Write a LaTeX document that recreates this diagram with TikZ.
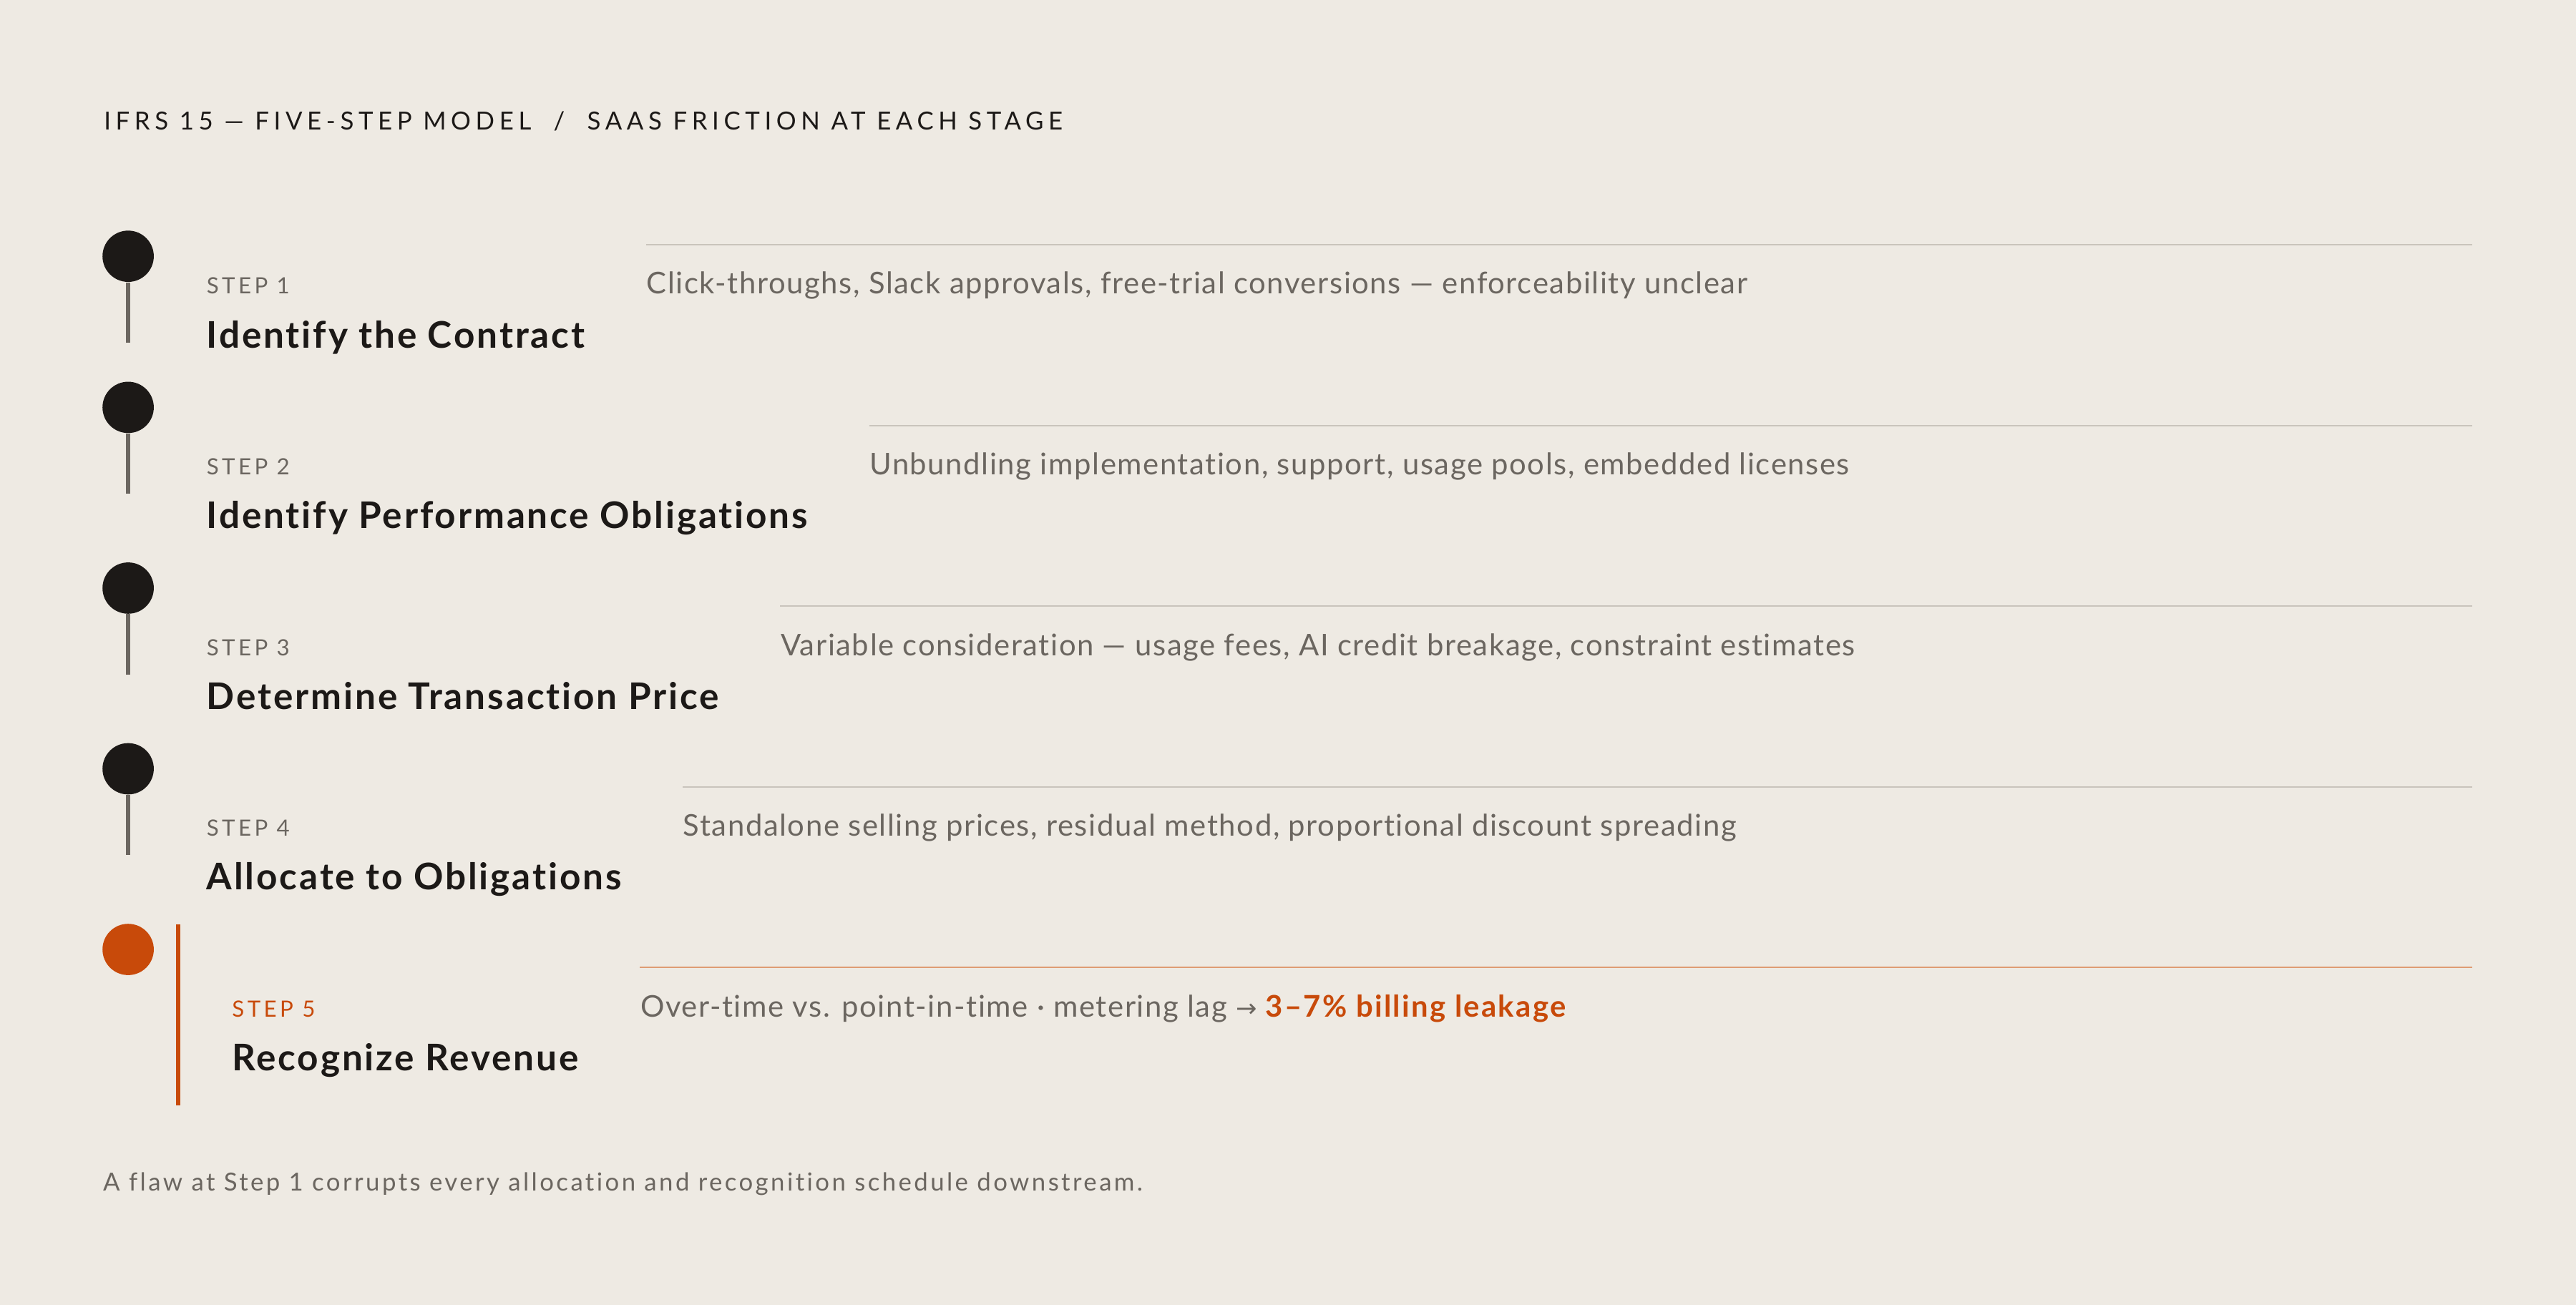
\documentclass[tikz,border=0pt]{standalone}
\usepackage{fontspec}
\setmainfont{Lato}[Ligatures=NoCommon]
\newfontfamily\arrowfont{DejaVu Sans}
\usetikzlibrary{calc}
\definecolor{paper}{HTML}{EEEAE3}
\definecolor{ink}{HTML}{1C1917}
\definecolor{mute}{HTML}{6B6660}
\definecolor{rulegrey}{HTML}{C9C4BC}
\definecolor{rust}{HTML}{C84A0A}
\definecolor{rustlight}{HTML}{DE9C74}

\begin{document}
\begin{tikzpicture}[x=0.0229592cm,y=-0.0229592cm,
  every node/.style={inner sep=0pt,anchor=base west},
  heading/.style={text=ink,font=\fontsize{9.9}{12}\selectfont\addfontfeatures{LetterSpace=19}},
  stepno/.style={text=mute,font=\fontsize{8.9}{11}\selectfont\addfontfeatures{LetterSpace=14}},
  stepname/.style={text=ink,font=\fontsize{14.6}{17}\selectfont\bfseries\addfontfeatures{LetterSpace=5.6}},
  friction/.style={text=mute,font=\fontsize{11.9}{14}\selectfont\addfontfeatures{LetterSpace=3.8}},
  note/.style={text=mute,font=\fontsize{9.9}{12}\selectfont\addfontfeatures{LetterSpace=9.8}},
  dot/.style={circle,fill=ink,minimum size=20.4pt,anchor=center},
  stem/.style={mute,line width=1.7pt},
  rule/.style={rulegrey,line width=0.6pt}]
\fill[paper] (0,0) rectangle (1568,794.4);
\useasboundingbox (0,0) rectangle (1568,794.4);
\node[heading] (head) at (63,79) {IFRS 15 — FIVE-STEP MODEL\hspace{0.9em}/\hspace{0.9em}SAAS FRICTION AT EACH STAGE};
\foreach \i/\cy/\name/\txt in {
  1/156/{Identify the Contract}/{Click-throughs, Slack approvals, free-trial conversions — enforceability unclear},
  2/248/{Identify Performance Obligations}/{Unbundling implementation, support, usage pools, embedded licenses},
  3/358/{Determine Transaction Price}/{Variable consideration — usage fees, AI credit breakage, constraint estimates},
  4/468/{Allocate to Obligations}/{Standalone selling prices, residual method, proportional discount spreading}}{
  \pgfmathsetmacro\ly{149+110*(\i-1)}
  \pgfmathsetmacro\sb{179+110*(\i-1)}
  \pgfmathsetmacro\tb{211.7+110*(\i-1)}
  \node[dot] (p\i) at (78,\cy) {};
  \draw[stem] (p\i.south) -- ++(0,36.6);
  \node[stepno] (s\i) at (125.5,\sb) {STEP \i};
  \node[stepname] (t\i) at (125.5,\tb) {\name};
  \coordinate (c\i) at ($(t\i.east)+(37,0)$);
  \node[friction] (d\i) at (c\i |- s\i.base) {\txt};
  \draw[rule] (c\i |- 0,\ly) -- (1505,\ly);
}
\node[dot,fill=rust] (p5) at (78,578) {};
\coordinate (bartop) at (108.5,562.7);
\coordinate (barend) at (108.5,672.8);
\draw[stem,rust] (bartop) -- (barend);
\node[stepno,text=rust] (s5) at (141,619) {STEP 5};
\node[stepname] (t5) at (141,651.7) {Recognize Revenue};
\coordinate (c5) at ($(t5.east)+(37,0)$);
\node[friction] (d5) at (c5 |- s5.base) {Over-time vs. point-in-time · metering lag {\arrowfont\fontsize{10}{12}\selectfont →} \textcolor{rust}{\bfseries\addfontfeatures{LetterSpace=5.5}3–7\% billing leakage}};
\draw[rule,rustlight] (c5 |- 0,589) -- (1505,589);
\node[note] (foot) at (62.5,725) {A flaw at Step 1 corrupts every allocation and recognition schedule downstream.};
\end{tikzpicture}
\end{document}
